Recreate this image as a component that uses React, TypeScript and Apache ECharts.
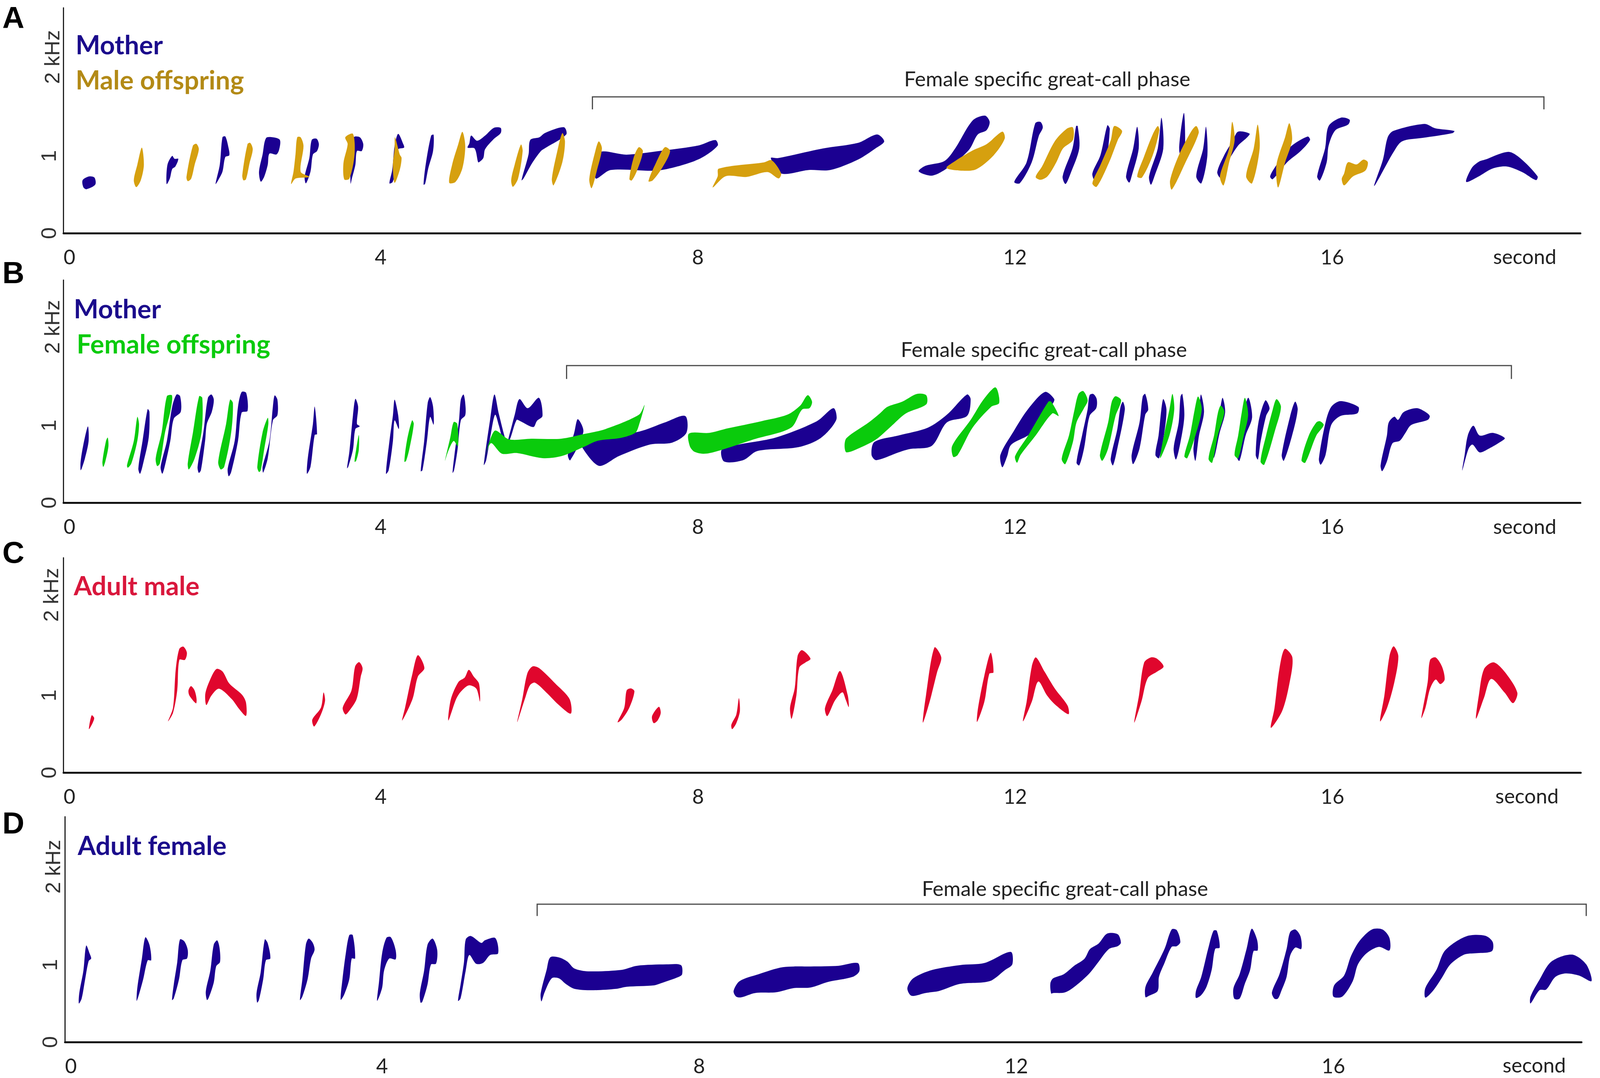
import { useEffect, useRef } from "react";
import * as echarts from "echarts";

type Point = [number, number];

// every syllable is an outline of [second, kHz] points
const motherA: Point[][] = [
  [[0.24,0.686],[0.32,0.735],[0.39,0.72],[0.4,0.63],[0.29,0.57],[0.25,0.595]],
  [[1.3,0.637],[1.31,0.886],[1.37,1.002],[1.4,0.964],[1.447,0.964],[1.41,0.864],[1.37,0.831],[1.34,0.708]],
  [[1.917,0.637],[1.97,0.886],[2.004,1.243],[2.04,1.254],[2.08,1.109],[2.09,1.009],[2.04,0.987],[2.004,0.797],[1.95,0.686]],
  [[2.487,0.668],[2.465,0.797],[2.51,1.02],[2.553,1.232],[2.64,1.243],[2.728,1.209],[2.72,1.087],[2.684,1.02],[2.596,1.031],[2.575,0.886],[2.53,0.731]],
  [[3.057,0.646],[3.04,0.731],[3.1,0.976],[3.13,1.209],[3.19,1.225],[3.22,1.154],[3.197,1.065],[3.145,1.02],[3.114,0.797]],
  [[3.62,0.641],[3.62,1.02],[3.66,1.243],[3.737,1.243],[3.78,1.154],[3.76,1.065],[3.7,1.065],[3.68,0.886],[3.636,0.708]],
  [[4.11,0.646],[4.145,0.82],[4.175,1.131],[4.22,1.287],[4.285,1.154],[4.294,1.109],[4.22,1.087],[4.22,0.909],[4.15,0.663]],
  [[4.54,0.63],[4.57,0.909],[4.636,1.265],[4.667,1.276],[4.66,1.065],[4.6,0.842],[4.56,0.641]],
  [[5.228,0.92],[5.184,1.098],[5.096,1.109],[5.118,1.165],[5.14,1.265],[5.215,1.198],[5.316,1.265],[5.425,1.365],[5.513,1.365],[5.513,1.298],[5.425,1.22],[5.316,1.087],[5.294,0.975],[5.241,0.92]],
  [[5.776,0.686],[5.864,1.02],[5.886,1.209],[6.0,1.243],[6.07,1.298],[6.31,1.374],[6.34,1.28],[6.07,1.1],[6.02,1.065],[5.91,0.909],[5.8,0.708]],
  [[6.75,1.045],[7.1,1.018],[7.47,1.059],[8.0,1.135],[8.22,1.208],[8.25,1.135],[8.04,0.973],[7.74,0.864],[7.47,0.81],[6.9,0.819],[6.71,0.71]],
  [[8.92,0.973],[9.01,0.973],[9.58,1.099],[10.02,1.171],[10.26,1.28],[10.35,1.19],[10.24,1.099],[10.02,0.955],[9.67,0.819],[9.4,0.819],[9.05,0.774]],
  [[10.785,0.801],[10.87,0.873],[11.11,0.936],[11.245,1.099],[11.465,1.461],[11.62,1.524],[11.68,1.443],[11.64,1.334],[11.53,1.28],[11.42,1.081],[11.2,0.882],[10.96,0.747]],
  [[11.99,0.665],[12.145,0.918],[12.255,1.425],[12.32,1.443],[12.35,1.37],[12.3,1.262],[12.21,0.918],[12.06,0.647]],
  [[12.77,1.388],[12.79,1.388],[12.81,1.1],[12.7,0.774],[12.637,0.638],[12.6,0.737],[12.725,1.1]],
  [[13.164,1.398],[13.195,1.352],[13.14,0.918],[13.01,0.683],[12.975,0.774],[13.076,1.009]],
  [[13.54,1.38],[13.56,1.099],[13.47,0.737],[13.44,0.656],[13.4,0.737],[13.49,1.099]],
  [[13.846,1.497],[13.87,1.099],[13.758,0.737],[13.714,0.629],[13.69,0.737],[13.8,1.099]],
  [[14.13,1.56],[14.145,1.099],[14.11,0.918],[14.07,1.099]],
  [[14.408,1.38],[14.426,1.009],[14.35,0.647],[14.285,0.737],[14.373,1.099]],
  [[14.813,1.316],[14.958,1.29],[14.92,1.235],[14.813,1.135],[14.68,0.918],[14.59,0.72],[14.55,0.792],[14.637,1.009],[14.75,1.208]],
  [[15.69,1.253],[15.72,1.208],[15.6,1.063],[15.43,0.918],[15.25,0.7],[15.217,0.737],[15.296,0.882],[15.47,1.117]],
  [[16.11,1.497],[16.22,1.47],[16.2,1.407],[16.04,1.334],[15.955,1.135],[15.93,0.918],[15.845,0.683],[15.81,0.737],[15.91,1.099],[15.955,1.388]],
  [[16.77,1.325],[17.165,1.416],[17.295,1.361],[17.54,1.325],[17.52,1.298],[17.14,1.235],[16.88,1.19],[16.77,1.045],[16.53,0.611],[16.64,0.954],[16.7,1.244]],
  [[17.69,0.665],[17.76,0.846],[17.85,0.927],[17.93,0.954],[18.22,1.054],[18.37,0.973],[18.59,0.737],[18.57,0.687],[18.395,0.792],[18.2,0.864],[18.02,0.837],[17.85,0.737]],
];

const maleOffspringA: Point[][] = [
  [[0.917,0.597],[0.886,0.686],[0.93,0.886],[0.987,1.109],[1.013,0.886],[0.974,0.686]],
  [[1.566,0.675],[1.55,0.73],[1.63,1.131],[1.675,1.158],[1.706,1.087],[1.653,0.886],[1.61,0.708]],
  [[2.268,0.686],[2.254,0.753],[2.32,1.154],[2.355,1.17],[2.386,1.087],[2.346,0.909],[2.3,0.697]],
  [[2.947,1.243],[2.99,1.243],[3.026,1.131],[2.99,0.797],[3.1,0.73],[2.925,0.708],[2.87,0.637],[2.9,0.797],[2.925,1.02]],
  [[3.65,1.287],[3.67,1.02],[3.605,0.708],[3.54,0.697],[3.53,0.909],[3.583,1.154],[3.553,1.243]],
  [[4.18,1.243],[4.24,1.02],[4.263,0.975],[4.24,0.82],[4.175,0.653],[4.153,0.886],[4.175,1.087]],
  [[5.03,1.314],[5.066,1.131],[5.03,0.842],[4.943,0.664],[4.864,0.653],[4.9,0.886],[4.978,1.154]],
  [[5.768,1.149],[5.79,1.065],[5.732,0.708],[5.667,0.601],[5.645,0.686],[5.689,0.886]],
  [[6.29,1.298],[6.324,1.19],[6.29,0.918],[6.18,0.62],[6.158,0.702],[6.223,1.045]],
  [[6.75,1.19],[6.79,1.099],[6.73,0.828],[6.66,0.584],[6.63,0.701],[6.706,1.063]],
  [[7.254,1.114],[7.307,1.063],[7.232,0.81],[7.166,0.683],[7.136,0.701],[7.188,0.973]],
  [[7.583,1.114],[7.65,1.063],[7.56,0.864],[7.43,0.683],[7.377,0.674],[7.474,0.918]],
  [[8.263,0.837],[8.833,0.918],[8.93,0.945],[9.05,0.774],[9.017,0.71],[8.877,0.792],[8.614,0.729],[8.35,0.738],[8.188,0.593],[8.25,0.738]],
  [[11.84,1.316],[11.87,1.226],[11.73,1.009],[11.51,0.828],[11.33,0.81],[11.136,0.846],[11.245,0.936],[11.465,1.072],[11.64,1.153]],
  [[12.65,1.352],[12.73,1.37],[12.73,1.208],[12.605,1.099],[12.52,0.918],[12.41,0.738],[12.32,0.692],[12.26,0.729],[12.34,0.864],[12.5,1.19]],
  [[13.25,1.388],[13.35,1.325],[13.296,1.208],[13.186,0.918],[13.03,0.602],[12.975,0.647],[13.076,0.882],[13.208,1.208]],
  [[13.8,1.388],[13.82,1.334],[13.736,1.009],[13.6,0.72],[13.54,0.737],[13.626,0.991],[13.736,1.28]],
  [[14.285,1.388],[14.316,1.298],[14.15,0.918],[13.978,0.566],[13.955,0.683],[14.065,1.009],[14.22,1.316]],
  [[14.738,1.443],[14.77,1.208],[14.7,0.918],[14.63,0.62],[14.584,0.737],[14.7,1.099]],
  [[15.06,1.407],[15.085,1.099],[14.99,0.647],[14.914,0.737],[15.01,1.099]],
  [[15.459,1.425],[15.494,1.208],[15.406,0.918],[15.318,0.593],[15.296,0.882],[15.406,1.244]],
  [[16.395,0.954],[16.45,0.918],[16.417,0.81],[16.263,0.737],[16.15,0.62],[16.12,0.701],[16.15,0.774],[16.197,0.918],[16.307,0.891]],
];

const motherB: Point[][] = [
  [[0.215,0.42],[0.215,0.53],[0.25,0.754],[0.307,0.989],[0.316,0.8],[0.27,0.576],[0.228,0.44]],
  [[0.965,0.375],[0.943,0.442],[0.996,0.8],[1.06,1.212],[1.083,1.179],[1.074,0.844],[1.004,0.509]],
  [[1.246,0.375],[1.224,0.464],[1.303,0.8],[1.37,1.246],[1.425,1.402],[1.47,1.38],[1.478,1.179],[1.39,1.089],[1.346,0.8],[1.28,0.487]],
  [[1.706,0.386],[1.69,0.464],[1.763,0.911],[1.82,1.357],[1.864,1.402],[1.895,1.335],[1.87,1.179],[1.807,1.022],[1.785,0.8],[1.732,0.42]],
  [[2.083,0.342],[2.07,0.442],[2.158,0.8],[2.2,1.246],[2.246,1.435],[2.303,1.424],[2.32,1.19],[2.246,1.167],[2.2,0.8],[2.114,0.397]],
  [[2.518,0.39],[2.51,0.464],[2.596,0.8],[2.64,1.246],[2.662,1.39],[2.697,1.335],[2.697,1.134],[2.64,1.067],[2.575,0.576]],
  [[3.07,0.375],[3.08,0.576],[3.145,1.022],[3.167,1.246],[3.197,0.888],[3.167,0.877],[3.114,0.464]],
  [[3.575,0.446],[3.605,0.665],[3.65,1.134],[3.68,1.346],[3.715,1.246],[3.7,1.022],[3.735,0.99],[3.68,0.955],[3.65,0.688],[3.59,0.464]],
  [[4.066,0.375],[4.11,0.8],[4.154,1.134],[4.175,1.335],[4.22,1.134],[4.228,0.955],[4.175,1.067],[4.154,0.8],[4.1,0.42]],
  [[4.504,0.408],[4.548,0.8],[4.592,1.29],[4.623,1.368],[4.66,1.246],[4.667,1.011],[4.623,1.112],[4.583,0.8],[4.526,0.42]],
  [[4.906,0.386],[4.93,0.62],[4.987,1.067],[5.01,1.335],[5.044,1.402],[5.066,1.29],[5.066,1.134],[5.01,1.067],[4.969,0.688],[4.925,0.42]],
  [[5.3,0.49],[5.38,1.08],[5.434,1.402],[5.49,1.15],[5.59,0.78],[5.62,0.87],[5.69,1.14],[5.75,1.343],[5.854,1.225],[5.995,1.36],[6.04,1.124],[5.97,1.06],[5.924,0.98],[5.76,1.057],[5.714,1.073],[5.62,0.8],[5.56,0.76],[5.49,1.0],[5.443,1.14],[5.39,0.9],[5.33,0.55]],
  [[6.485,1.082],[6.556,0.92],[6.39,0.55],[6.36,0.62],[6.44,0.905]],
  [[6.53,0.8],[7.26,0.922],[7.584,1.04],[7.84,1.124],[7.855,0.905],[7.677,0.779],[7.397,0.754],[7.0,0.602],[6.766,0.476],[6.62,0.6]],
  [[8.31,0.695],[8.986,0.846],[9.5,1.056],[9.71,1.225],[9.745,1.073],[9.55,0.838],[9.27,0.72],[8.75,0.67],[8.57,0.551],[8.33,0.534]],
  [[10.226,0.787],[10.53,0.871],[10.9,0.972],[11.14,1.14],[11.394,1.402],[11.44,1.342],[11.394,1.124],[11.14,1.04],[10.95,0.737],[10.67,0.695],[10.53,0.652],[10.25,0.551],[10.19,0.619]],
  [[11.84,0.459],[11.815,0.619],[11.98,0.922],[12.16,1.208],[12.377,1.435],[12.494,1.343],[12.47,1.275],[12.2,0.9],[11.95,0.75],[11.9,0.6]],
  [[12.986,1.41],[13.03,1.343],[13.024,1.225],[12.94,1.124],[12.87,0.703],[12.81,0.484],[12.775,0.518],[12.845,0.871],[12.915,1.208],[12.94,1.393]],
  [[13.36,1.309],[13.385,1.208],[13.29,0.703],[13.235,0.484],[13.206,0.568],[13.29,0.955],[13.33,1.242]],
  [[13.642,1.41],[13.68,1.208],[13.642,1.14],[13.57,0.703],[13.49,0.5],[13.47,0.619],[13.57,1.04],[13.61,1.376]],
  [[13.87,1.343],[13.91,1.208],[13.877,0.871],[13.816,0.577],[13.77,0.619],[13.81,0.871],[13.845,1.208]],
  [[14.11,1.41],[14.135,1.124],[14.087,0.787],[14.03,0.56],[14.0,0.703],[14.064,1.04],[14.087,1.376]],
  [[14.345,1.402],[14.383,1.174],[14.32,0.871],[14.275,0.543],[14.25,0.703],[14.32,1.208]],
  [[14.617,1.36],[14.65,1.174],[14.58,0.905],[14.51,0.585],[14.486,0.703],[14.58,1.174]],
  [[14.94,1.36],[14.99,1.107],[14.908,0.871],[14.83,0.543],[14.79,0.619],[14.86,1.04]],
  [[15.157,1.326],[15.21,1.225],[15.166,1.124],[15.096,0.787],[15.063,0.56],[15.035,0.619],[15.07,1.04]],
  [[15.532,1.309],[15.565,1.208],[15.494,0.871],[15.39,0.543],[15.363,0.619],[15.47,1.124]],
  [[16.104,1.317],[16.33,1.242],[16.315,1.157],[16.104,1.124],[15.987,1.006],[15.916,0.619],[15.855,0.492],[15.832,0.568],[15.916,1.04],[15.987,1.242]],
  [[17.065,1.225],[17.18,1.174],[17.23,1.124],[17.205,1.073],[16.995,1.006],[16.924,0.905],[16.854,0.804],[16.76,0.77],[16.69,0.534],[16.63,0.408],[16.61,0.484],[16.69,0.871],[16.713,1.04],[16.784,1.115],[16.83,1.073],[16.9,1.174]],
  [[17.78,0.997],[17.86,0.871],[18.025,0.905],[18.176,0.838],[18.12,0.787],[17.98,0.703],[17.86,0.652],[17.77,0.753],[17.72,0.7],[17.64,0.417],[17.67,0.619],[17.71,0.871]],
];

const femaleOffspringB: Point[][] = [
  [[0.5,0.464],[0.49,0.531],[0.535,0.8],[0.557,0.844],[0.566,0.732],[0.526,0.531]],
  [[0.81,0.453],[0.8,0.487],[0.886,0.8],[0.93,1.112],[0.952,1.022],[0.93,0.8],[0.855,0.509]],
  [[1.18,0.475],[1.162,0.576],[1.237,0.911],[1.303,1.38],[1.368,1.39],[1.346,1.179],[1.28,0.911],[1.215,0.509]],
  [[1.58,0.431],[1.566,0.509],[1.632,0.911],[1.71,1.38],[1.75,1.357],[1.74,0.911],[1.654,0.576]],
  [[1.982,0.431],[1.95,0.531],[2.05,1.022],[2.1,1.335],[2.136,1.29],[2.114,0.911],[2.026,0.464]],
  [[2.465,0.397],[2.443,0.464],[2.51,0.911],[2.575,1.1],[2.583,1.022],[2.53,0.688],[2.487,0.42]],
  [[3.67,0.531],[3.69,0.688],[3.724,0.877],[3.724,0.688],[3.69,0.542]],
  [[4.298,0.531],[4.33,0.8],[4.395,1.067],[4.417,1.022],[4.364,0.71],[4.32,0.542]],
  [[4.81,0.542],[4.877,0.844],[4.92,1.045],[4.965,1.022],[4.974,0.732],[4.92,0.8],[4.85,0.665]],
  [[5.293,0.476],[5.434,0.93],[5.62,0.82],[5.9,0.829],[6.275,0.829],[6.556,0.888],[6.836,0.955],[7.257,1.14],[7.327,1.267],[7.257,1.006],[7.21,0.905],[7.02,0.838],[6.743,0.804],[6.556,0.72],[6.275,0.602],[6.04,0.577],[5.714,0.644],[5.527,0.636],[5.387,0.77]],
  [[7.888,0.896],[8.145,0.905],[8.379,0.964],[8.8,1.056],[9.127,1.14],[9.29,1.258],[9.384,1.393],[9.44,1.309],[9.407,1.225],[9.314,1.208],[9.174,0.972],[8.706,0.821],[8.332,0.695],[8.098,0.635],[7.958,0.66],[7.897,0.736]],
  [[9.875,0.838],[10.155,1.04],[10.295,1.157],[10.389,1.242],[10.576,1.309],[10.763,1.41],[10.88,1.393],[10.88,1.275],[10.623,1.157],[10.436,0.989],[10.249,0.821],[10.062,0.72],[9.875,0.652],[9.85,0.736]],
  [[11.207,0.736],[11.44,1.073],[11.605,1.342],[11.754,1.494],[11.8,1.292],[11.698,1.242],[11.464,0.972],[11.277,0.619],[11.22,0.594]],
  [[12.025,0.518],[12.0,0.602],[12.165,0.871],[12.42,1.309],[12.456,1.309],[12.55,1.124],[12.47,1.157],[12.26,0.871],[12.07,0.619]],
  [[12.86,1.447],[12.916,1.326],[12.87,1.225],[12.775,1.04],[12.73,0.787],[12.634,0.5],[12.588,0.568],[12.68,0.871],[12.75,1.208],[12.8,1.41]],
  [[13.267,1.38],[13.338,1.326],[13.267,1.124],[13.174,0.703],[13.1,0.543],[13.07,0.619],[13.174,1.04],[13.22,1.309]],
  [[13.985,1.41],[14.008,1.208],[13.947,0.871],[13.83,0.577],[13.877,0.871],[13.947,1.208]],
  [[14.308,1.376],[14.355,1.208],[14.275,0.871],[14.172,0.577],[14.135,0.602],[14.205,0.871],[14.266,1.208]],
  [[14.594,1.258],[14.64,1.174],[14.557,0.871],[14.486,0.518],[14.44,0.568],[14.51,0.871],[14.557,1.157]],
  [[14.899,1.36],[14.94,1.14],[14.885,0.871],[14.814,0.577],[14.768,0.619],[14.814,0.871],[14.86,1.174]],
  [[15.297,1.342],[15.354,1.242],[15.284,0.955],[15.143,0.492],[15.096,0.534],[15.166,0.871],[15.25,1.208]],
  [[15.846,1.056],[15.893,1.006],[15.8,0.871],[15.66,0.518],[15.612,0.551],[15.705,0.871],[15.8,1.04]],
];

const adultMale: Point[][] = [
  [[0.32,0.563],[0.354,0.742],[0.386,0.709],[0.366,0.642]],
  [[1.317,0.664],[1.38,0.842],[1.414,1.332],[1.458,1.6],[1.51,1.633],[1.555,1.555],[1.53,1.461],[1.46,1.461],[1.433,1.065],[1.38,0.775]],
  [[1.607,1.12],[1.575,1.065],[1.587,0.998],[1.67,0.898],[1.677,0.953],[1.652,1.065]],
  [[1.8,0.875],[1.787,1.02],[1.845,1.198],[1.928,1.343],[2.005,1.31],[2.09,1.154],[2.25,1.009],[2.3,0.909],[2.3,0.735],[2.217,0.82],[2.12,0.953],[1.96,1.087],[1.864,0.998]],
  [[3.16,0.597],[3.136,0.686],[3.245,0.842],[3.278,1.038],[3.297,0.931],[3.245,0.753]],
  [[3.554,0.753],[3.52,0.842],[3.63,1.065],[3.676,1.376],[3.727,1.432],[3.77,1.354],[3.747,1.243],[3.695,0.953],[3.6,0.797]],
  [[4.27,0.675],[4.306,0.842],[4.4,1.287],[4.467,1.521],[4.55,1.354],[4.467,1.243],[4.4,0.953]],
  [[4.852,0.675],[4.884,0.953],[4.98,1.176],[5.058,1.232],[5.11,1.332],[5.173,1.243],[5.238,1.154],[5.25,0.92],[5.205,1.087],[5.11,1.131],[5.013,1.053],[4.95,0.953]],
  [[5.72,0.653],[5.784,0.953],[5.848,1.287],[5.913,1.376],[5.996,1.354],[6.2,1.154],[6.38,0.953],[6.395,0.764],[6.234,0.886],[6.105,1.02],[5.945,1.165],[5.88,1.131],[5.816,0.953]],
  [[6.986,0.653],[7.07,0.842],[7.1,1.065],[7.153,1.091],[7.198,1.053],[7.134,0.842],[7.037,0.686]],
  [[7.44,0.641],[7.42,0.73],[7.506,0.853],[7.53,0.775],[7.49,0.675]],
  [[8.43,0.563],[8.42,0.62],[8.483,0.753],[8.515,0.964],[8.528,0.797],[8.483,0.641]],
  [[9.18,0.697],[9.16,0.842],[9.22,1.1],[9.255,1.51],[9.31,1.587],[9.418,1.477],[9.353,1.426],[9.276,1.36],[9.24,1.0]],
  [[9.63,0.732],[9.6,0.833],[9.695,1.07],[9.79,1.316],[9.888,1.0],[9.9,0.85],[9.86,0.95],[9.82,1.04],[9.727,0.935]],
  [[10.835,0.647],[10.874,1.0],[10.98,1.62],[11.067,1.493],[11.016,1.307],[10.92,0.918]],
  [[11.518,0.656],[11.53,0.834],[11.61,1.257],[11.69,1.553],[11.725,1.299],[11.673,1.282],[11.61,0.918]],
  [[12.098,0.664],[12.143,0.918],[12.208,1.375],[12.26,1.493],[12.37,1.307],[12.5,1.087],[12.66,0.867],[12.67,0.757],[12.5,0.884],[12.4,1.0],[12.29,1.18],[12.208,0.918]],
  [[13.5,0.647],[13.56,1.0],[13.625,1.426],[13.71,1.493],[13.786,1.477],[13.87,1.375],[13.786,1.307],[13.67,1.223],[13.59,0.918]],
  [[15.223,0.58],[15.268,0.833],[15.33,1.341],[15.397,1.603],[15.494,1.493],[15.46,1.172],[15.366,0.8]],
  [[16.6,0.664],[16.654,1.0],[16.718,1.51],[16.77,1.637],[16.83,1.51],[16.78,1.172],[16.686,0.833]],
  [[17.12,0.707],[17.2,1.172],[17.23,1.46],[17.3,1.493],[17.38,1.375],[17.414,1.206],[17.36,1.147],[17.3,1.206],[17.23,1.087],[17.17,0.833]],
  [[17.81,0.698],[17.845,1.0],[17.91,1.341],[18.03,1.429],[18.17,1.307],[18.33,1.037],[18.276,0.9],[18.17,1.037],[18.0,1.214],[17.91,0.969]],
];

const adultFemale: Point[][] = [
  [[0.175,0.5],[0.18,0.635],[0.232,0.926],[0.267,1.251],[0.31,1.15],[0.33,1.083],[0.298,1.049],[0.254,0.814],[0.21,0.565]],
  [[0.903,0.534],[0.912,0.702],[0.97,1.083],[1.013,1.357],[1.065,1.262],[1.087,1.06],[1.043,1.06],[0.986,0.814],[0.925,0.59]],
  [[1.35,0.545],[1.372,0.747],[1.416,1.038],[1.45,1.33],[1.504,1.307],[1.548,1.195],[1.539,1.083],[1.48,1.06],[1.438,0.814],[1.372,0.567]],
  [[1.79,0.545],[1.776,0.657],[1.833,0.926],[1.876,1.262],[1.92,1.318],[1.95,1.217],[1.955,1.038],[1.907,0.982],[1.876,0.769],[1.81,0.567]],
  [[2.424,0.511],[2.416,0.635],[2.468,0.904],[2.52,1.33],[2.556,1.285],[2.59,1.083],[2.534,1.06],[2.5,0.814],[2.446,0.545]],
  [[2.964,0.545],[2.994,0.814],[3.038,1.262],[3.073,1.341],[3.126,1.285],[3.148,1.195],[3.104,1.083],[3.06,0.814],[2.994,0.59]],
  [[3.477,0.549],[3.5,0.814],[3.542,1.15],[3.586,1.386],[3.63,1.386],[3.66,1.083],[3.617,1.083],[3.586,0.814],[3.52,0.612]],
  [[3.937,0.534],[3.96,0.769],[4.0,1.15],[4.055,1.352],[4.11,1.359],[4.17,1.195],[4.17,1.072],[4.09,1.083],[4.025,0.926],[4.0,0.702]],
  [[4.485,0.511],[4.476,0.635],[4.53,0.926],[4.573,1.262],[4.638,1.341],[4.695,1.195],[4.68,1.016],[4.616,1.004],[4.573,0.747],[4.507,0.522]],
  [[4.958,0.534],[4.99,0.747],[5.033,1.038],[5.055,1.33],[5.12,1.375],[5.252,1.285],[5.296,1.319],[5.428,1.348],[5.463,1.15],[5.362,1.128],[5.275,1.027],[5.186,1.015],[5.1,1.128],[5.055,0.926],[4.99,0.567]],
  [[6.01,0.527],[6.0,0.627],[6.075,0.935],[6.12,1.098],[6.23,1.098],[6.338,1.043],[6.426,0.953],[6.6,0.917],[7.018,0.935],[7.215,0.989],[7.588,1.007],[7.77,0.998],[7.785,0.88],[7.74,0.844],[7.52,0.763],[7.434,0.736],[7.084,0.717],[6.95,0.69],[6.645,0.672],[6.426,0.69],[6.316,0.754],[6.23,0.826],[6.14,0.826],[6.05,0.645]],
  [[8.465,0.59],[8.434,0.663],[8.51,0.79],[8.75,0.88],[9.056,0.971],[9.407,0.98],[9.758,0.989],[10.0,1.025],[10.02,0.917],[9.933,0.844],[9.626,0.78],[9.407,0.708],[9.188,0.699],[8.969,0.645],[8.706,0.636],[8.53,0.58]],
  [[10.678,0.6],[10.626,0.698],[10.7,0.826],[10.94,0.935],[11.29,0.998],[11.6,1.025],[11.93,1.17],[11.95,1.007],[11.86,0.935],[11.665,0.79],[11.29,0.754],[11.03,0.663],[10.854,0.636]],
  [[12.44,0.63],[12.43,0.76],[12.465,0.826],[12.6,0.88],[12.73,0.989],[12.86,1.08],[12.93,1.206],[13.04,1.279],[13.146,1.406],[13.28,1.397],[13.32,1.288],[13.28,1.243],[13.17,1.207],[13.04,1.043],[12.93,0.899],[12.82,0.79],[12.685,0.681],[12.6,0.64],[12.465,0.636]],
  [[13.63,0.582],[13.63,0.717],[13.72,0.899],[13.87,1.207],[13.96,1.46],[14.025,1.451],[14.07,1.297],[14.025,1.243],[13.96,1.234],[13.87,1.025],[13.8,0.844],[13.784,0.663],[13.674,0.6]],
  [[14.267,0.572],[14.267,0.663],[14.333,0.844],[14.42,1.207],[14.487,1.442],[14.53,1.442],[14.566,1.225],[14.509,1.207],[14.465,0.935],[14.4,0.717],[14.333,0.609]],
  [[14.75,0.563],[14.74,0.7],[14.817,0.88],[14.905,1.207],[14.97,1.469],[15.036,1.333],[15.045,1.188],[14.993,1.179],[14.95,0.935],[14.883,0.754],[14.817,0.563]],
  [[15.256,0.563],[15.225,0.645],[15.32,0.88],[15.41,1.207],[15.454,1.424],[15.52,1.46],[15.586,1.37],[15.595,1.207],[15.52,1.225],[15.454,1.116],[15.41,0.844],[15.344,0.663],[15.3,0.563]],
  [[16.0,0.59],[16.01,0.736],[16.135,0.862],[16.223,1.116],[16.333,1.315],[16.487,1.46],[16.62,1.46],[16.707,1.352],[16.707,1.188],[16.575,1.234],[16.42,1.152],[16.31,1.007],[16.245,0.79],[16.113,0.59]],
  [[17.16,0.576],[17.16,0.7],[17.3,0.935],[17.41,1.188],[17.674,1.37],[17.915,1.379],[18.01,1.297],[18.0,1.179],[17.8,1.152],[17.65,1.134],[17.476,1.007],[17.365,0.826],[17.256,0.663]],
  [[18.487,0.5],[18.487,0.59],[18.6,0.808],[18.75,1.043],[19.01,1.134],[19.19,1.007],[19.256,0.79],[19.1,0.862],[18.93,0.89],[18.8,0.844],[18.685,0.681],[18.6,0.672]],
];

// [start second, end second, kHz of the bar, kHz of the feet]
const phaseA = [6.67, 18.67, 1.767, 1.605];
const phaseB = [6.344, 18.26, 1.777, 1.604];
const phaseD = [5.956, 19.19, 1.787, 1.634];

const phaseLabel = "Female specific great-call phase";

const NAVY = "#1b0091";
const GOLD = "#d6a00f";
const GREEN = "#0acb0c";
const RED = "#e0062d";

const SECONDS_MAX = 19.13;
const PX_PER_KHZ = 197.5;
// layout is measured on the 4405 wide reference, but the page really opens 4096 wide,
// so x positions get scaled to whatever width the chart has
const DESIGN_WIDTH = 4405;

const panels = [
  { letter: "A", letterY: 45, left: 175, top: 20, bottom: 597, width: 4176, phase: phaseA, phaseX: 2883, phaseY: 200, secondX: 4198, labelY: 656,
    marks: [{ shapes: motherA, color: NAVY }, { shapes: maleOffspringA, color: GOLD }],
    legends: [{ text: "Mother", x: 208, y: 113, color: "#1b0c8c" }, { text: "Male offspring", x: 208, y: 203, color: "#b38a16" }], kHzY: 215, kHzX: 143 },
  { letter: "B", letterY: 698, left: 175, top: 717, bottom: 1287, width: 4176, phase: phaseB, phaseX: 2874, phaseY: 893, secondX: 4198, labelY: 1347,
    marks: [{ shapes: motherB, color: NAVY }, { shapes: femaleOffspringB, color: GREEN }],
    legends: [{ text: "Mother", x: 203, y: 789, color: "#1b0c8c" }, { text: "Female offspring", x: 211, y: 879, color: GREEN }], kHzY: 906, kHzX: 143 },
  { letter: "C", letterY: 1414, left: 175, top: 1428, bottom: 1978, width: 4177, phase: null, phaseX: 0, phaseY: 0, secondX: 4204, labelY: 2037,
    marks: [{ shapes: adultMale, color: RED }],
    legends: [{ text: "Adult male", x: 203, y: 1498, color: "#d9173c" }], kHzY: 1592, kHzX: 140 },
  { letter: "D", letterY: 2107, left: 179, top: 2091, bottom: 2668, width: 4175, phase: phaseD, phaseX: 2932, phaseY: 2273, secondX: 4224, labelY: 2726,
    marks: [{ shapes: adultFemale, color: NAVY }],
    legends: [{ text: "Adult female", x: 214, y: 2163, color: "#1b0c8c" }], kHzY: 2288, kHzX: 145 },
];

const BODY_FONT = "Lato";

const App = () => {
  const chartRef = useRef<HTMLDivElement>(null);

  useEffect(() => {
    if (!chartRef.current) return;
    document.body.style.margin = "0";

    const chart = echarts.init(chartRef.current, null, { renderer: "svg" });
    const sx = chart.getWidth() / DESIGN_WIDTH;

    const series: any[] = [];
    const graphic: any[] = [];

    panels.forEach((p, i) => {
      p.marks.forEach((m) => {
        series.push({
          type: "custom",
          xAxisIndex: i,
          yAxisIndex: i,
          silent: true,
          data: m.shapes.map((s) => s[0]),
          renderItem: (params: any, api: any) => ({
            type: "polygon",
            shape: { points: m.shapes[params.dataIndex].map((pt) => api.coord(pt)), smooth: 0.3 },
            style: { fill: m.color },
          }),
        });
      });

      if (p.phase) {
        const [start, end, level, foot] = p.phase;
        series.push({
          type: "custom",
          xAxisIndex: i,
          yAxisIndex: i,
          silent: true,
          data: [[start, level]],
          renderItem: (_: any, api: any) => ({
            type: "polyline",
            shape: { points: [[start, foot], [start, level], [end, level], [end, foot]].map((pt) => api.coord(pt)) },
            style: { stroke: "#4a4a4a", lineWidth: 3, fill: "none" },
          }),
        });
        graphic.push({
          type: "text", x: p.phaseX * sx, y: p.phaseY,
          style: { text: phaseLabel, font: `53px ${BODY_FONT}`, fill: "#222", align: "center", verticalAlign: "middle" },
        });
      }

      graphic.push({
        type: "text", x: 6, y: p.letterY,
        style: { text: p.letter, font: "bold 78px 'Liberation Sans'", fill: "#000", align: "left", verticalAlign: "middle" },
      });
      graphic.push({
        type: "text", x: p.secondX * sx, y: p.labelY,
        style: { text: "second", font: `52px ${BODY_FONT}`, fill: "#222", align: "center", verticalAlign: "middle" },
      });
      graphic.push({
        type: "text", x: p.kHzX * sx, y: p.kHzY, rotation: Math.PI / 2,
        style: { text: "2 kHz", font: "54px 'Liberation Sans'", fill: "#333", align: "left", verticalAlign: "middle" },
      });
      p.legends.forEach((l) => {
        graphic.push({
          type: "text", x: l.x * sx, y: l.y,
          style: { text: l.text, font: `bold 67px ${BODY_FONT}`, fill: l.color, align: "left", verticalAlign: "middle" },
        });
      });
    });

    chart.setOption({
      animation: false,
      backgroundColor: "#fff",
      grid: panels.map((p) => ({ left: p.left * sx, top: p.top, width: p.width * sx, height: p.bottom - p.top, show: false })),
      xAxis: panels.map((p, i) => ({
        type: "value",
        gridIndex: i,
        min: 0,
        max: SECONDS_MAX,
        interval: 4,
        splitLine: { show: false },
        axisTick: { show: false },
        axisLine: { onZero: false, lineStyle: { color: "#111", width: 5 } },
        axisLabel: {
          showMaxLabel: false,
          alignMinLabel: "left",
          margin: 34,
          color: "#222",
          fontFamily: BODY_FONT,
          fontSize: 52,
        },
      })),
      yAxis: panels.map((p, i) => ({
        type: "value",
        gridIndex: i,
        min: 0,
        max: (p.bottom - p.top) / PX_PER_KHZ,
        interval: 1,
        splitLine: { show: false },
        axisTick: { show: false },
        axisLine: { onZero: false, lineStyle: { color: "#222", width: 3 } },
        axisLabel: {
          rotate: 90,
          showMaxLabel: false,
          margin: 12,
          color: "#333",
          fontFamily: "Liberation Sans",
          fontSize: 54,
          formatter: (v: number) => (v === 2 ? "" : String(v)),
        },
      })),
      series,
      graphic,
    });

    return () => {
      chart.dispose();
    };
  }, []);

  return (
    <div
      ref={chartRef}
      style={{ position: "absolute", left: 0, top: 0, width: "100vw", height: 2760 }}
    />
  );
};

export default App;
